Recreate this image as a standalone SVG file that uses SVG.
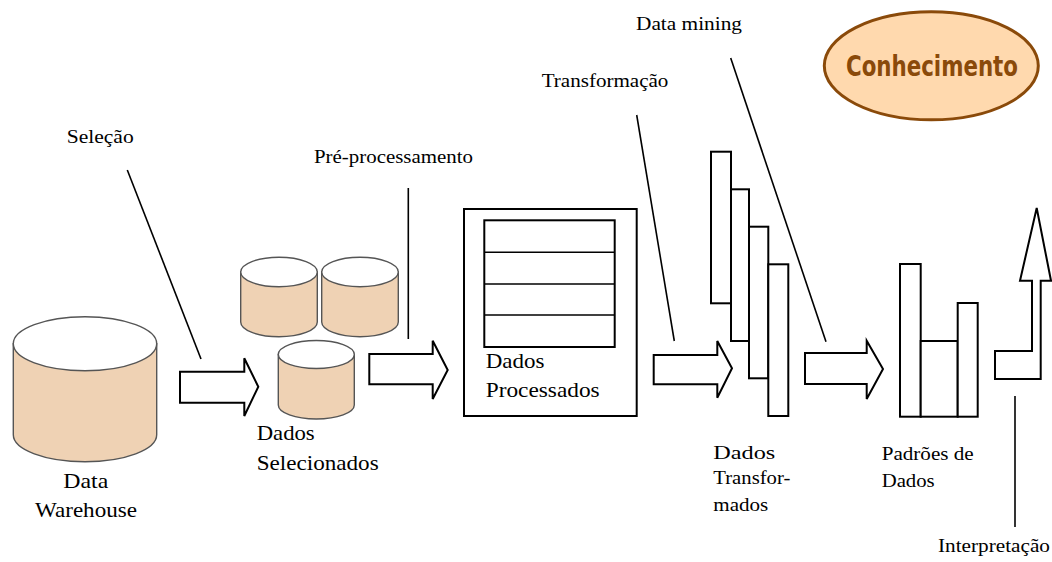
<svg xmlns="http://www.w3.org/2000/svg" width="1052" height="562" viewBox="0 0 1052 562">
<style>
text.lbl{font-family:"Liberation Serif","Times New Roman",serif;fill:#000}
text.s{font-size:19px}
text.b{font-size:21px}
.cylb{fill:#EFD2B4;stroke:#555;stroke-width:1.4}
.cylt{fill:#fff;stroke:#555;stroke-width:1.4}
.blk{fill:#fff;stroke:#000;stroke-width:2;stroke-linejoin:miter}
.ln{stroke:#000;stroke-width:1.6;fill:none}
.bar{fill:#fff;stroke:#000;stroke-width:2}
</style>
<rect width="1052" height="562" fill="#fff"/>

<g id="conhecimento">
<ellipse cx="931.3" cy="65.8" rx="107" ry="54" fill="#FFD9AE" stroke="#8A4A0A" stroke-width="3"/>
<text x="932" y="76" text-anchor="middle" font-family="DejaVu Sans, sans-serif" font-stretch="condensed" font-weight="bold" font-size="28" fill="#8A4A0A" textLength="172" lengthAdjust="spacingAndGlyphs">Conhecimento</text>
</g>

<g id="data-warehouse">
<path class="cylb" d="M13.3,343.7 L13.3,434.7 A71.7,27 0 0 0 156.7,434.7 L156.7,343.7 Z"/>
<ellipse class="cylt" cx="85" cy="343.7" rx="71.7" ry="27"/>
<text class="lbl b" x="63.3" y="488" textLength="45" lengthAdjust="spacingAndGlyphs">Data</text>
<text class="lbl b" x="35" y="516.7" textLength="102" lengthAdjust="spacingAndGlyphs">Warehouse</text>
</g>

<g id="dados-selecionados">
<path class="cylb" d="M240.7,272 L240.7,322 A38.3,14.7 0 0 0 317.3,322 L317.3,272 Z"/>
<ellipse class="cylt" cx="279" cy="272" rx="38.3" ry="14.7"/>
<path class="cylb" d="M321.7,272 L321.7,322 A38.3,14.7 0 0 0 398.3,322 L398.3,272 Z"/>
<ellipse class="cylt" cx="360" cy="272" rx="38.3" ry="14.7"/>
<path class="cylb" d="M278.3,354.5 L278.3,405 A38,14 0 0 0 354.3,405 L354.3,354.5 Z"/>
<ellipse class="cylt" cx="316.3" cy="354.5" rx="38" ry="14"/>
<text class="lbl b" x="256.7" y="440" textLength="58" lengthAdjust="spacingAndGlyphs">Dados</text>
<text class="lbl b" x="256.7" y="470" textLength="122" lengthAdjust="spacingAndGlyphs">Selecionados</text>
</g>

<g id="dados-processados">
<rect class="bar" x="464" y="209" width="172.7" height="207"/>
<rect class="bar" x="484.3" y="220.3" width="130.4" height="126.7"/>
<line class="ln" x1="484.3" y1="252.3" x2="614.7" y2="252.3" stroke-width="2"/>
<line class="ln" x1="484.3" y1="284" x2="614.7" y2="284" stroke-width="2"/>
<line class="ln" x1="484.3" y1="315" x2="614.7" y2="315" stroke-width="2"/>
<text class="lbl b" x="485.7" y="367.7" textLength="58.7" lengthAdjust="spacingAndGlyphs">Dados</text>
<text class="lbl b" x="485.7" y="396.7" textLength="114" lengthAdjust="spacingAndGlyphs">Processados</text>
</g>

<g id="dados-transformados">
<rect class="bar" x="711" y="151.7" width="20" height="151.6"/>
<rect class="bar" x="731" y="189.3" width="18" height="151.7"/>
<rect class="bar" x="749" y="226.7" width="19.3" height="151.6"/>
<rect class="bar" x="768.3" y="264.3" width="20" height="151.7"/>
<text class="lbl s" x="713.3" y="459.3" textLength="62" lengthAdjust="spacingAndGlyphs">Dados</text>
<text class="lbl s" x="713.3" y="484" textLength="77" lengthAdjust="spacingAndGlyphs">Transfor-</text>
<text class="lbl s" x="713.3" y="510.7" textLength="55" lengthAdjust="spacingAndGlyphs">mados</text>
</g>

<g id="padroes-de-dados">
<rect class="bar" x="900" y="264" width="20.7" height="152.7"/>
<rect class="bar" x="920.7" y="341" width="37" height="75.7"/>
<rect class="bar" x="957.7" y="303" width="20" height="113.7"/>
<text class="lbl s" x="881.7" y="460" textLength="92" lengthAdjust="spacingAndGlyphs">Padrões de</text>
<text class="lbl s" x="881.7" y="487" textLength="53" lengthAdjust="spacingAndGlyphs">Dados</text>
</g>

<g id="connectors">
<polygon class="blk" points="180,371.7 244.3,371.7 244.3,358.3 258.3,386.7 244.3,416 244.3,402.7 180,402.7"/>
<polygon class="blk" points="369.3,354 432.7,354 432.7,340.7 447.7,370 432.7,399 432.7,384.3 369.3,384.3"/>
<polygon class="blk" points="653.7,355 717.3,355 717.3,341 732,368.3 717.3,397.7 717.3,384.3 653.7,384.3"/>
<polygon class="blk" points="805,353 866.7,353 866.7,340.7 883,369 866.7,399 866.7,384 805,384"/>
<polygon class="blk" points="995,351 1032,351 1032,280.7 1020,280.7 1036.7,208 1051,280.7 1040.7,280.7 1040.7,379 995,379"/>
<line class="ln" x1="127.3" y1="170" x2="201" y2="359"/>
<line class="ln" x1="408.3" y1="188" x2="408.3" y2="339"/>
<line class="ln" x1="636.7" y1="115" x2="674.3" y2="341"/>
<line class="ln" x1="730.7" y1="58" x2="826" y2="341.7"/>
<line class="ln" x1="1015" y1="396" x2="1015" y2="527"/>
</g>

<g id="labels">
<text class="lbl s" x="66.7" y="143" textLength="67" lengthAdjust="spacingAndGlyphs">Seleção</text>
<text class="lbl s" x="314" y="163.3" textLength="159" lengthAdjust="spacingAndGlyphs">Pré-processamento</text>
<text class="lbl s" x="541.7" y="87.3" textLength="126.7" lengthAdjust="spacingAndGlyphs">Transformação</text>
<text class="lbl s" x="636" y="30" textLength="106" lengthAdjust="spacingAndGlyphs">Data mining</text>
<text class="lbl s" x="938" y="552" textLength="112" lengthAdjust="spacingAndGlyphs">Interpretação</text>
</g>
</svg>
